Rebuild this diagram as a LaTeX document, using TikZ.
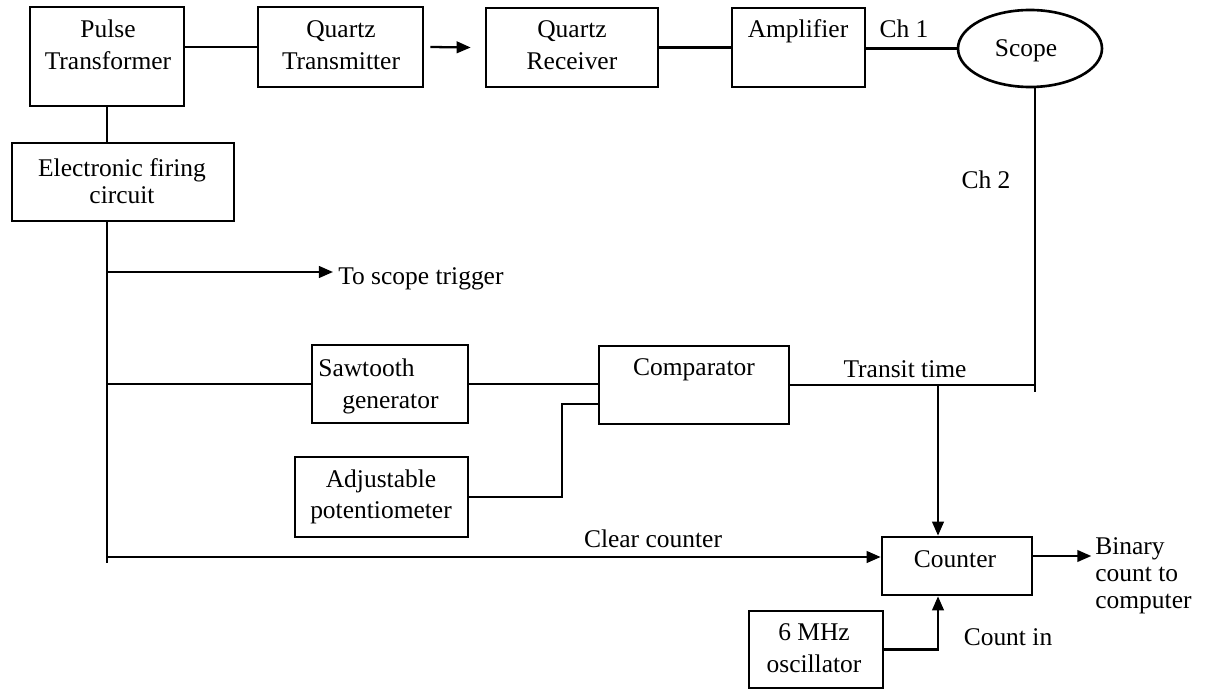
\documentclass[tikz,border=0pt]{standalone}
\usepackage{fontspec}
\setmainfont{Liberation Serif}
\usetikzlibrary{arrows.meta,shapes.geometric,calc}

% a block given by its corner coordinates: name, x1, y1, x2, y2
\newcommand\blockat[5]{%
  \node[block, minimum width={(#4-#2)*0.02cm}, minimum height={(#5-#3)*0.02cm}]
    (#1) at ({(#2+#4)/2},{(#3+#5)/2}) {};}

\tikzset{
  block/.style={draw, line width=1.5pt, inner sep=0pt},
  wire/.style={line width=1.3pt},
  arr/.style={wire, -{Triangle[length=8pt,width=6.6pt]}},
  % multi-line labels are placed by the baseline of their last line
  lbl/.style={font=\fontsize{14.5pt}{18.7pt}\selectfont, inner sep=0pt, align=center, anchor=base},
}

\begin{document}
\begin{tikzpicture}[x=0.02cm, y=-0.02cm]
  \useasboundingbox (0,0) rectangle (1207,689);

  % ---- blocks ----
  \blockat{pt}{30}{7}{184}{106}
  \blockat{qt}{258}{7}{423}{87}
  \blockat{qr}{486}{8}{658}{87}
  \blockat{amp}{732}{8}{865}{87}
  \node[ellipse, draw, line width=1.5pt, inner sep=0pt,
        minimum width=144*0.02cm, minimum height=77*0.02cm] (scope) at (1030,48.5) {};
  \blockat{efc}{12}{143}{234}{221}
  \blockat{saw}{312}{345}{468}{423}
  \blockat{cmp}{599}{346}{789}{424}
  \blockat{pot}{295}{457}{468}{537}
  \blockat{cnt}{882}{537}{1032}{595}
  \blockat{osc}{749}{611}{883}{688}

  % ---- block texts ----
  \node[lbl] (pt-t)  at (108,70)  {Pulse\\Transformer};
  \node[lbl] (qt-t)  at (341,70)  {Quartz\\Transmitter};
  \node[lbl] (qr-t)  at (572,70)  {Quartz\\Receiver};
  \node[lbl] (amp-t) at (798,38)  {Amplifier};
  \node[lbl] (sc-t)  at (1026,57) {Scope};
  \node[lbl] (efc-t) at (122,204) {Electronic firing\\[-2.8pt]circuit};
  \node[lbl, anchor=base west, align=left] (saw-t) at (318,408)
        {Sawtooth\\[-0.5pt]\hspace*{0.48cm}generator};
  \node[lbl] (cmp-t) at (694,375) {Comparator};
  \node[lbl] (pot-t) at (381,518) {Adjustable\\[-1.6pt]potentiometer};
  \node[lbl] (cnt-t) at (955,567) {Counter};
  \node[lbl] (osc-t) at (814,672) {6 MHz\\[-0.5pt]oscillator};

  % ---- connection points ----
  \coordinate (bustop) at (pt.south |- efc.south);
  \coordinate (busend) at (107,563);
  \coordinate (trig)   at (333,272);
  \coordinate (cmpin)  at ([yshift=-0.38cm]cmp.west);
  \coordinate (potbend) at (562,0);
  \coordinate (tap)    at (938,0);
  \coordinate (ch2out) at ([xshift=0.1cm]scope.south);
  \coordinate (clr)    at ([yshift=0.18cm]cnt.west);
  \coordinate (cntout) at ([yshift=0.2cm]cnt.east);
  \coordinate (outend) at ($(cntout)+(58,0)$);

  % ---- connectors ----
  \draw[wire] (pt.east |- qt.west) -- (qt.west);
  \draw[arr]  ([xshift=0.12cm]qt.east) -- ([xshift=-0.28cm]qr.west);
  \draw[wire] (qr.east) -- (amp.west);
  \draw[wire] (amp.east |- scope.west) -- (scope.west);
  \draw[wire] (pt.south) -- (pt.south |- efc.north);
  \draw[wire] (bustop) -- (busend);
  \draw[arr]  (bustop |- trig) -- (trig);
  \draw[wire] (bustop |- saw.west) -- (saw.west);
  \draw[wire] (saw.east) -- (saw.east -| cmp.west);
  \draw[wire] (pot.east) -- (potbend |- pot.east) -- (potbend |- cmpin) -- (cmpin);
  \draw[wire] (ch2out) -- ++(0,304);
  \draw[wire] (cmp.east) -- (cmp.east -| ch2out);
  \draw[arr]  (tap |- cmp.east) -- (tap |- cnt.north);
  \draw[arr]  (bustop |- clr) -- (clr);
  \draw[arr]  (osc.east) -- (tap |- osc.east) -- (tap |- cnt.south);
  \draw[arr]  (cntout) -- (outend);

  % ---- connector labels ----
  \node[lbl] (ch1)  at (904,38)  {Ch 1};
  \node[lbl] (ch2)  at (986,189) {Ch 2};
  \node[lbl, anchor=base west] (trig-t) at (338,285) {To scope trigger};
  \node[lbl] (tt)   at (905,377) {Transit time};
  \node[lbl] (cc)   at (653,547) {Clear counter};
  \node[lbl] (ci)   at (1008,645) {Count in};
  \node[lbl, anchor=base west, align=left] (bin) at (1095,608)
        {Binary\\[-3.4pt]count to\\[-3.4pt]computer};
\end{tikzpicture}
\end{document}
